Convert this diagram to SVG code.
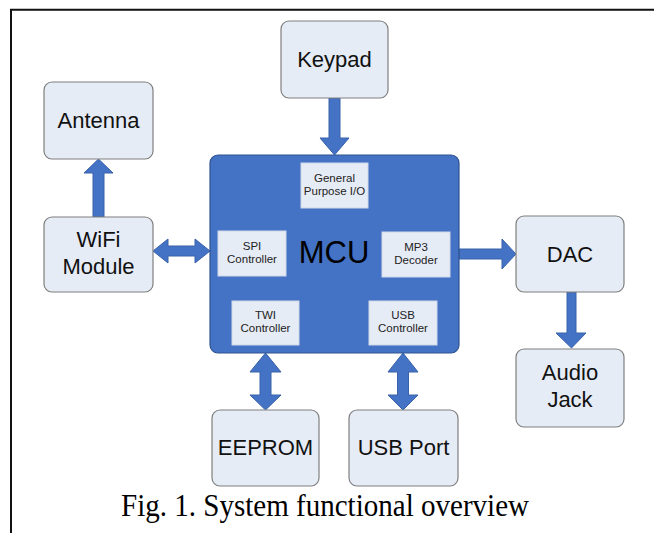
<svg xmlns="http://www.w3.org/2000/svg" width="654" height="533" viewBox="0 0 654 533">
  <style>
    .box { fill: #e6ecf6; stroke: #7f7f7f; stroke-width: 1.2; }
    .sub { fill: #e6ecf6; stroke: #d0d8e8; stroke-width: 1; }
    .mcu { fill: #4472c4; stroke: #2f528f; stroke-width: 1.2; }
    .arrow { fill: #4472c4; stroke: #3a62aa; stroke-width: 1; stroke-linejoin: miter; }
    .lbl { font-family: "Liberation Sans", Arial, sans-serif; font-size: 22px; fill: #111; text-anchor: middle; }
    .sm { font-family: "Liberation Sans", Arial, sans-serif; font-size: 11.5px; fill: #222; text-anchor: middle; }
    .big { font-family: "Liberation Sans", Arial, sans-serif; font-size: 31px; fill: #000; text-anchor: middle; }
    .cap { font-family: "Liberation Serif", "Times New Roman", serif; font-size: 32px; fill: #000; }
  </style>
  <rect width="654" height="533" fill="#ffffff"/>
  <!-- frame: left and top rules -->
  <path d="M11 533 V9.8 H654" fill="none" stroke="#111" stroke-width="2"/>

  <g id="connectors">
    <!-- Keypad -> MCU -->
    <polygon class="arrow" points="329,98 340,98 340,138 349,138 334.5,155 320,138 329,138"/>
    <!-- WiFi -> Antenna -->
    <polygon class="arrow" points="93,217 104,217 104,173 113,173 98.5,159 84,173 93,173"/>
    <!-- WiFi <-> MCU -->
    <polygon class="arrow" points="153,251 168,239 168,246 195,246 195,239 210,251 195,263 195,256 168,256 168,263"/>
    <!-- MCU -> DAC -->
    <polygon class="arrow" points="459,249 502,249 502,239 516,254 502,269 502,259 459,259"/>
    <!-- DAC -> Audio Jack -->
    <polygon class="arrow" points="567,292 576,292 576,333 586,333 571.5,348 556,333 567,333"/>
    <!-- MCU <-> EEPROM -->
    <polygon class="arrow" points="265.5,353 281,372 271,372 271,395 281,395 265.5,410 250,395 260,395 260,372 250,372"/>
    <!-- MCU <-> USB Port -->
    <polygon class="arrow" points="403,353 418,372 408.5,372 408.5,395 418,395 403,410 388,395 397.5,395 397.5,372 388,372"/>
  </g>

  <g id="mcu">
    <rect class="mcu" x="210" y="155" width="249" height="198" rx="8"/>
    <text class="big" x="334" y="263">MCU</text>
    <g id="gpio">
      <rect class="sub" x="301" y="163" width="67" height="45"/>
      <text class="sm" x="334.5" y="182">General</text>
      <text class="sm" x="334.5" y="195">Purpose I/O</text>
    </g>
    <g id="spi">
      <rect class="sub" x="218" y="231" width="68" height="45"/>
      <text class="sm" x="252" y="250">SPI</text>
      <text class="sm" x="252" y="263">Controller</text>
    </g>
    <g id="mp3">
      <rect class="sub" x="382" y="232" width="68" height="45"/>
      <text class="sm" x="416" y="251">MP3</text>
      <text class="sm" x="416" y="264">Decoder</text>
    </g>
    <g id="twi">
      <rect class="sub" x="232" y="301" width="67" height="44"/>
      <text class="sm" x="265.5" y="319">TWI</text>
      <text class="sm" x="265.5" y="332">Controller</text>
    </g>
    <g id="usbctl">
      <rect class="sub" x="369" y="301" width="68" height="44"/>
      <text class="sm" x="403" y="319">USB</text>
      <text class="sm" x="403" y="332">Controller</text>
    </g>
  </g>

  <g id="keypad">
    <rect class="box" x="281" y="21" width="107" height="77" rx="8"/>
    <text class="lbl" x="334.5" y="67">Keypad</text>
  </g>
  <g id="antenna">
    <rect class="box" x="44" y="82" width="109" height="77" rx="8"/>
    <text class="lbl" x="98.5" y="128">Antenna</text>
  </g>
  <g id="wifi">
    <rect class="box" x="44" y="217" width="109" height="75" rx="8"/>
    <text class="lbl" x="98.5" y="247">WiFi</text>
    <text class="lbl" x="98.5" y="274">Module</text>
  </g>
  <g id="dac">
    <rect class="box" x="516" y="216" width="108" height="76" rx="8"/>
    <text class="lbl" x="570" y="262">DAC</text>
  </g>
  <g id="audio">
    <rect class="box" x="516" y="349" width="108" height="78" rx="8"/>
    <text class="lbl" x="570" y="380">Audio</text>
    <text class="lbl" x="570" y="407">Jack</text>
  </g>
  <g id="eeprom">
    <rect class="box" x="212" y="410" width="107" height="76" rx="8"/>
    <text class="lbl" x="265.5" y="455">EEPROM</text>
  </g>
  <g id="usbport">
    <rect class="box" x="349" y="410" width="109" height="76" rx="8"/>
    <text class="lbl" x="403.5" y="455">USB Port</text>
  </g>

  <text class="cap" x="121" y="516" textLength="408" lengthAdjust="spacingAndGlyphs">Fig. 1. System functional overview</text>
</svg>
